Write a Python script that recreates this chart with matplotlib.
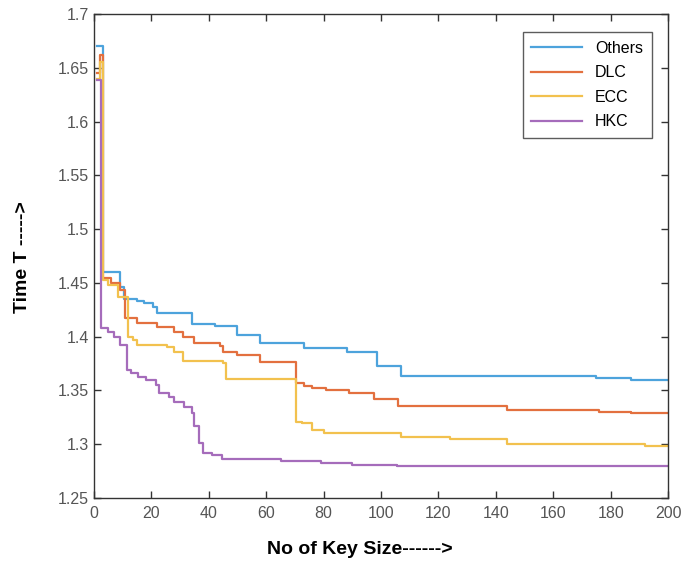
import numpy as np
import matplotlib
matplotlib.use("Agg")
import matplotlib.pyplot as plt
from matplotlib.ticker import FormatStrFormatter

plt.rcParams['font.family'] = ['Liberation Sans', 'DejaVu Sans']

# step breakpoints (x) and level from that point on (y)
others_x = [1, 3, 9, 10.5, 15, 17.6, 20.5, 22, 34, 42, 50, 58, 73, 88, 98.5, 107, 175, 187, 200]
others_y = [1.670, 1.460, 1.446, 1.435, 1.4335, 1.431, 1.428, 1.422, 1.412, 1.410, 1.4015, 1.394,
            1.3895, 1.386, 1.373, 1.3635, 1.3615, 1.360, 1.360]

dlc_x = [1, 2, 3, 6, 9, 10.8, 15, 22, 28, 31, 35, 44, 45, 50, 58, 70.5, 73, 76, 81, 89, 97.5,
         106, 144, 176, 187, 200]
dlc_y = [1.645, 1.662, 1.455, 1.450, 1.443, 1.417, 1.413, 1.409, 1.4045, 1.400, 1.3945, 1.391,
         1.386, 1.383, 1.3767, 1.357, 1.3545, 1.3523, 1.350, 1.348, 1.342, 1.3356, 1.332, 1.3303,
         1.3288, 1.3288]

ecc_x = [1, 2, 3, 5, 8.5, 12, 13.5, 15, 25.5, 28, 31, 45, 46, 70.5, 72.5, 76, 80, 107, 124, 144,
         192, 200]
ecc_y = [1.640, 1.655, 1.4527, 1.448, 1.4366, 1.400, 1.397, 1.3923, 1.3907, 1.386, 1.3774, 1.3752,
         1.361, 1.321, 1.3195, 1.3132, 1.3102, 1.307, 1.3046, 1.3002, 1.2987, 1.2987]

hkc_x = [1, 2.5, 5, 7, 9, 11.5, 13, 15.5, 18, 21.5, 22.5, 26, 28, 31.5, 34, 35, 36.5, 38, 41,
         44.5, 65, 79, 90, 105.5, 200]
hkc_y = [1.6386, 1.4078, 1.4046, 1.400, 1.3923, 1.369, 1.366, 1.3628, 1.3597, 1.355, 1.3474,
         1.3442, 1.3396, 1.3349, 1.3288, 1.317, 1.3009, 1.2916, 1.290, 1.286, 1.284, 1.2823, 1.2807,
         1.2797, 1.2797]

labels = ["Others", "DLC", "ECC", "HKC"]
colors = ["#4da3dc", "#e3703f", "#f2c14e", "#a56cbb"]

fig = plt.figure(figsize=(6.81, 5.65), dpi=100)
ax = fig.add_axes([0.138, 0.1186, 0.843, 0.8566])

series = [(others_x, others_y), (dlc_x, dlc_y), (ecc_x, ecc_y), (hkc_x, hkc_y)]
for (x, y), lab, c in zip(series, labels, colors):
    ax.plot(x, y, drawstyle="steps-post", color=c, lw=1.6, label=lab)

ax.set_xlim(0, 200)
ax.set_ylim(1.25, 1.7)
ax.set_xticks(np.arange(0, 201, 20))
ax.set_yticks(np.arange(1.25, 1.701, 0.05))
ax.yaxis.set_major_formatter(FormatStrFormatter('%g'))
ax.tick_params(direction="in", top=True, right=True, length=5, width=1,
               labelsize=11.5, labelcolor="#555555", colors="#333333")
ax.tick_params(axis="x", pad=6)
for s in ax.spines.values():
    s.set_color("#333333")
    s.set_linewidth(1)

ax.set_xlabel("No of Key Size------>", fontsize=14, fontweight="bold")
ax.xaxis.set_label_coords(0.463, -0.088)
ax.set_ylabel("Time T ----->", fontsize=14, fontweight="bold")
ax.yaxis.set_label_coords(-0.11, 0.497)

leg = ax.legend(loc="upper right", bbox_to_anchor=(0.972, 0.963), borderaxespad=0, fontsize=11.5,
                frameon=True, fancybox=False, edgecolor="#333333", handlelength=3.2,
                borderpad=0.55, labelspacing=0.6, handletextpad=0.8)
leg.get_frame().set_linewidth(1)

fig.savefig("out.png", dpi=100)
